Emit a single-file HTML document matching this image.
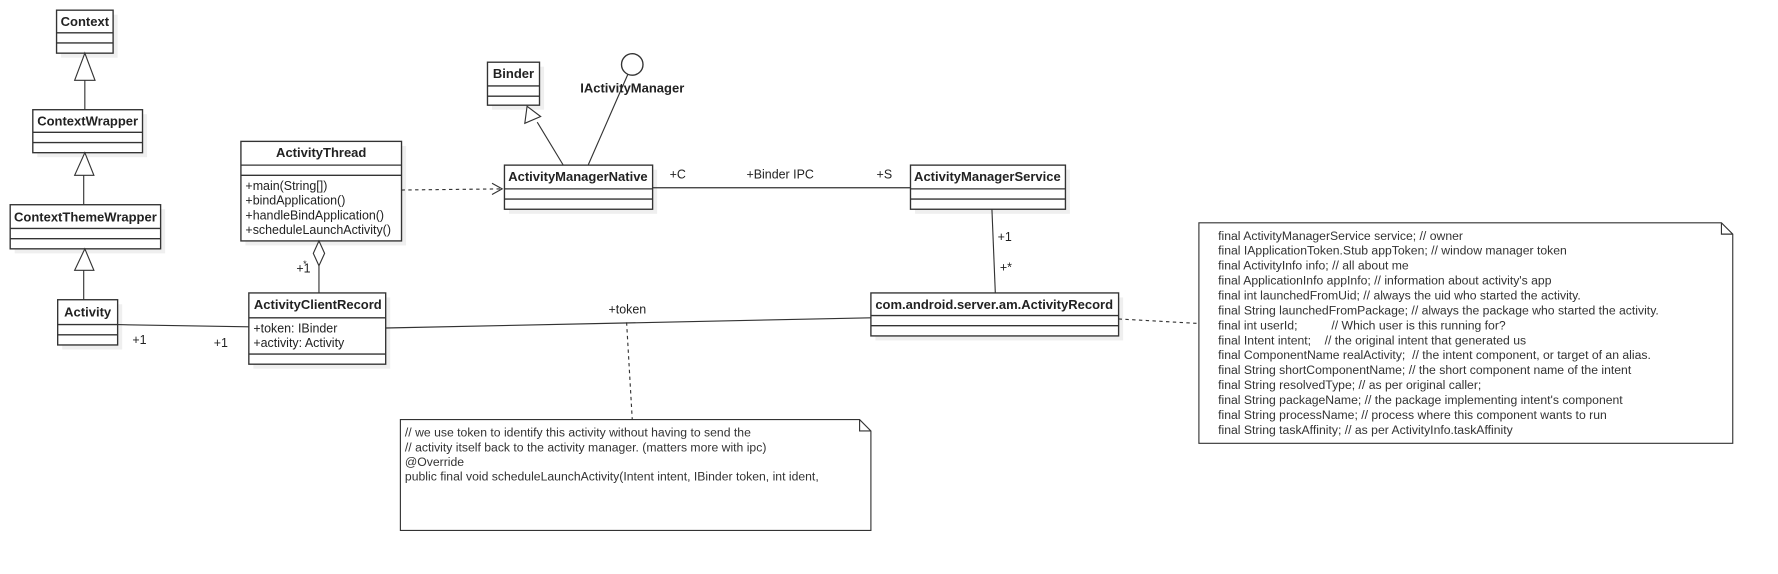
<!DOCTYPE html>
<html><head><meta charset="utf-8"><style>
html,body{margin:0;padding:0;background:#fff;}
svg{display:block;}
text{font-family:"Liberation Sans",Arial,sans-serif;fill:#222;}
.b{font-weight:bold;font-size:11.5px;}
.t{font-size:11px;}
.n{font-size:10.8px;fill:#333;}
</style></head><body>
<svg width="1778" height="574" viewBox="0 0 1572 507.5" xmlns="http://www.w3.org/2000/svg">
<g fill="#efefef" stroke="none">
<rect x="54" y="13" width="50" height="38"/>
<rect x="33" y="101" width="97" height="38"/>
<rect x="13" y="185" width="133" height="39"/>
<rect x="55" y="269" width="53" height="40"/>
<rect x="217" y="129" width="142" height="88"/>
<rect x="224" y="263" width="121" height="63"/>
<rect x="435" y="59" width="46" height="38"/>
<rect x="450" y="150" width="131" height="39"/>
<rect x="809" y="150" width="137" height="39"/>
<rect x="774" y="263" width="219" height="38"/>
</g>
<g fill="#fff" stroke="#333" stroke-width="1.2">
<!-- Context -->
<rect x="50" y="9" width="50" height="38"/><line x1="50" y1="29" x2="100" y2="29"/><line x1="50" y1="38" x2="100" y2="38"/>
<rect x="29" y="97" width="97" height="38"/><line x1="29" y1="117" x2="126" y2="117"/><line x1="29" y1="126" x2="126" y2="126"/>
<rect x="9" y="181" width="133" height="39"/><line x1="9" y1="202" x2="142" y2="202"/><line x1="9" y1="211" x2="142" y2="211"/>
<rect x="51" y="265" width="53" height="40"/><line x1="51" y1="287" x2="104" y2="287"/><line x1="51" y1="296" x2="104" y2="296"/>
<!-- ActivityThread -->
<rect x="213" y="125" width="142" height="88"/><line x1="213" y1="146" x2="355" y2="146"/><line x1="213" y1="155" x2="355" y2="155"/>
<!-- ACR -->
<rect x="220" y="259" width="121" height="63"/><line x1="220" y1="281" x2="341" y2="281"/><line x1="220" y1="313" x2="341" y2="313"/>
<!-- Binder -->
<rect x="431" y="55" width="46" height="38"/><line x1="431" y1="76" x2="477" y2="76"/><line x1="431" y1="85" x2="477" y2="85"/>
<!-- AMN -->
<rect x="446" y="146" width="131" height="39"/><line x1="446" y1="167" x2="577" y2="167"/><line x1="446" y1="176" x2="577" y2="176"/>
<!-- AMS -->
<rect x="805" y="146" width="137" height="39"/><line x1="805" y1="167" x2="942" y2="167"/><line x1="805" y1="176" x2="942" y2="176"/>
<!-- AR -->
<rect x="770" y="259" width="219" height="38"/><line x1="770" y1="279" x2="989" y2="279"/><line x1="770" y1="288" x2="989" y2="288"/>
<circle cx="559" cy="57" r="9.5"/>
</g>
<g stroke="#333" stroke-width="1" fill="none">
<line x1="75" y1="71" x2="75" y2="97"/>
<line x1="74" y1="155" x2="74" y2="181"/>
<line x1="74" y1="239" x2="74" y2="265"/>
<line x1="104" y1="287" x2="220" y2="289"/>
<line x1="282" y1="235" x2="282" y2="259"/>
<line x1="355" y1="168" x2="444" y2="167" stroke-dasharray="3,3"/>
<polyline points="435,162 444,167 435,172"/>
<line x1="498" y1="146" x2="475" y2="108"/>
<line x1="520" y1="146" x2="555" y2="66"/>
<line x1="577" y1="166" x2="805" y2="166"/>
<line x1="877" y1="185" x2="880" y2="259"/>
<line x1="341" y1="290" x2="770" y2="281"/>
<line x1="554" y1="285" x2="559" y2="371" stroke-dasharray="3,3"/>
<line x1="989" y1="282" x2="1060" y2="286" stroke-dasharray="3,3"/>
</g>
<g fill="#fff" stroke="#333" stroke-width="1">
<polygon points="75,47 66,71 84,71"/>
<polygon points="75,135 66,155 83,155"/>
<polygon points="75,220 66,239 83,239"/>
<polygon points="282,213 277,224 282,235 287,224"/>
<polygon points="466,94 464,109 478,103"/>
<path d="M354,371 H760 L770,381 V469 H354 Z M760,371 V381 H770"/>
<path d="M1060,197 H1522 L1532,207 V392 H1060 Z M1522,197 V207 H1532"/>
</g>
<text class="b" x="75" y="23" text-anchor="middle">Context</text>
<text class="b" x="77.5" y="111" text-anchor="middle">ContextWrapper</text>
<text class="b" x="75.5" y="196" text-anchor="middle">ContextThemeWrapper</text>
<text class="b" x="77.5" y="280" text-anchor="middle">Activity</text>
<text class="b" x="284" y="139" text-anchor="middle">ActivityThread</text>
<text class="t" x="217" y="168">+main(String[])</text>
<text class="t" x="217" y="181">+bindApplication()</text>
<text class="t" x="217" y="194">+handleBindApplication()</text>
<text class="t" x="217" y="207">+scheduleLaunchActivity()</text>
<text class="b" x="281" y="273" text-anchor="middle">ActivityClientRecord</text>
<text class="t" x="224" y="294">+token: IBinder</text>
<text class="t" x="224" y="307">+activity: Activity</text>
<text class="b" x="454" y="69" text-anchor="middle">Binder</text>
<text class="b" x="513" y="82">IActivityManager</text>
<text class="b" x="511" y="160" text-anchor="middle">ActivityManagerNative</text>
<text class="b" x="873" y="160" text-anchor="middle">ActivityManagerService</text>
<text class="b" x="879" y="273" text-anchor="middle">com.android.server.am.ActivityRecord</text>
<text class="t" x="117" y="304">+1</text>
<text class="t" x="189" y="307">+1</text>
<text class="t" x="262" y="241">+1</text>
<text class="t" x="268" y="236" style="font-size:8px">*</text>
<text class="t" x="592" y="158">+C</text>
<text class="t" x="660" y="158">+Binder IPC</text>
<text class="t" x="775" y="158">+S</text>
<text class="t" x="882" y="213">+1</text>
<text class="t" x="884" y="240">+*</text>
<text class="t" x="538" y="277">+token</text>
<g class="n">
<text class="n" x="358" y="386">// we use token to identify this activity without having to send the</text>
<text class="n" x="358" y="399">// activity itself back to the activity manager. (matters more with ipc)</text>
<text class="n" x="358" y="412">@Override</text>
<text class="n" x="358" y="425">public final void scheduleLaunchActivity(Intent intent, IBinder token, int ident,</text>
</g>
<g>
<text class="n" x="1077" y="212">final ActivityManagerService service; // owner</text>
<text class="n" x="1077" y="225.2">final IApplicationToken.Stub appToken; // window manager token</text>
<text class="n" x="1077" y="238.4">final ActivityInfo info; // all about me</text>
<text class="n" x="1077" y="251.6">final ApplicationInfo appInfo; // information about activity's app</text>
<text class="n" x="1077" y="264.8">final int launchedFromUid; // always the uid who started the activity.</text>
<text class="n" x="1077" y="278">final String launchedFromPackage; // always the package who started the activity.</text>
<text class="n" x="1077" y="291.2" xml:space="preserve">final int userId;          // Which user is this running for?</text>
<text class="n" x="1077" y="304.4" xml:space="preserve">final Intent intent;    // the original intent that generated us</text>
<text class="n" x="1077" y="317.6" xml:space="preserve">final ComponentName realActivity;  // the intent component, or target of an alias.</text>
<text class="n" x="1077" y="330.8">final String shortComponentName; // the short component name of the intent</text>
<text class="n" x="1077" y="344">final String resolvedType; // as per original caller;</text>
<text class="n" x="1077" y="357.2">final String packageName; // the package implementing intent's component</text>
<text class="n" x="1077" y="370.4">final String processName; // process where this component wants to run</text>
<text class="n" x="1077" y="383.6">final String taskAffinity; // as per ActivityInfo.taskAffinity</text>
</g>
</svg>
</body></html>
